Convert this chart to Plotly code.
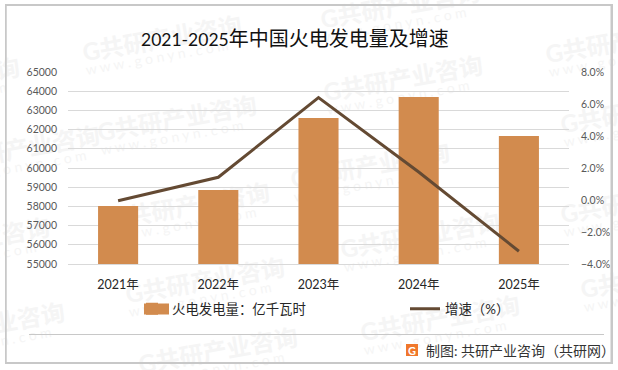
import plotly.graph_objects as go

categories = ["2021年", "2022年", "2023年", "2024年", "2025年"]
generation = [58020, 58850, 62600, 63700, 61670]
growth = [-0.05, 1.42, 6.4, 1.75, -3.2]

W, H = 618, 370
L, R, T, B = 68, 569, 72, 264
FONT = "Lato, 'Noto Sans CJK SC', sans-serif"
WM = "#f5f5f5"
BAR = "#D28B4E"
FRAME = "#c8c8c8"
wm_centers = [(162, 38), (177, 118), (205, 280), (218, 350), (190, 205), (403, 78), (370, 165),
              (420, 235), (440, 318), (625, 40), (640, 110), (640, 200), (660, 275), (20, 148),
              (-15, 325), (-30, 240), (-60, 80), (400, 5)]


def px(x):
    return (x - L) / (R - L)


def py(y):
    return (B - y) / (B - T)


shapes = []
# chart frame (four filled strips) and footer rule
for x0, x1, y0, y1 in [(5, 612, 4.5, 6), (5, 612, 362, 363.5), (5, 6.5, 4.5, 363.5), (610.5, 612, 4.5, 363.5),
                       (29, 604, 334, 335)]:
    shapes.append(dict(type="rect", xref="paper", yref="paper", layer="above",
                       x0=px(x0), x1=px(x1), y0=py(y1), y1=py(y0), line=dict(width=0), fillcolor=FRAME))
for cx, cy in wm_centers:
    shapes.append(dict(type="rect", xref="paper", yref="paper", layer="below",
                       x0=px(cx - 100), x1=px(cx + 100), y0=py(cy + 15), y1=py(cy - 15),
                       line=dict(width=0), fillcolor="rgba(0,0,0,0)",
                       label=dict(text="<b>G共研产业咨询</b>", textangle=-10, textposition="middle center",
                                  font=dict(family=FONT, size=24, color=WM))))
    shapes.append(dict(type="rect", xref="paper", yref="paper", layer="below",
                       x0=px(cx - 100), x1=px(cx + 90), y0=py(cy + 30), y1=py(cy + 8),
                       line=dict(width=0), fillcolor="rgba(0,0,0,0)",
                       label=dict(text="w w w . g o n y n . c o m", textangle=-10, textposition="middle center",
                                  font=dict(family=FONT, size=14, color=WM))))

# legend swatch and logo
shapes.append(dict(type="rect", xref="paper", yref="paper", x0=px(144), x1=px(169), y0=py(314.5), y1=py(303.5),
                   line=dict(width=0), fillcolor=BAR))
shapes.append(dict(type="rect", xref="paper", yref="paper", x0=px(406), x1=px(418), y0=py(356), y1=py(344),
                   line=dict(width=0), fillcolor="#f0772b"))

fig = go.Figure()
fig.add_trace(go.Bar(x=categories, y=generation, name="火电发电量：亿千瓦时", marker=dict(color=BAR, line=dict(width=0)),
                     width=0.4, yaxis="y", legend="legend"))
fig.add_trace(go.Scatter(x=categories, y=growth, name="增速（%）", mode="lines", yaxis="y2", legend="legend2",
                         line=dict(color="#644a33", width=3)))

legend_font = dict(size=13.4, color="#262626", family=FONT)
fig.update_layout(
    width=W, height=H, autosize=False,
    margin=dict(l=L, r=W - R, t=T, b=H - B, autoexpand=False),
    paper_bgcolor="white", plot_bgcolor="rgba(0,0,0,0)",
    font=dict(family=FONT, color="#595959", size=12),
    showlegend=True,
    legend=dict(x=px(132), y=py(309), xanchor="left", yanchor="middle", itemwidth=30,
                bgcolor="rgba(0,0,0,0)", font=legend_font),
    legend2=dict(x=px(405), y=py(309), xanchor="left", yanchor="middle", itemwidth=30,
                 bgcolor="rgba(0,0,0,0)", font=legend_font),
    xaxis=dict(type="category", showgrid=False, showline=True, linecolor="#d9d9d9", ticks="",
               tickfont=dict(size=12.5, color="#262626"), ticklabelstandoff=9, automargin=False),
    yaxis=dict(range=[55000, 65000], dtick=1000, showgrid=True, gridcolor="#d9d9d9", gridwidth=1,
               zeroline=False, showline=False, ticks="", tickformat="d", ticklabelstandoff=10,
               tickfont=dict(size=10.5, color="#595959"), automargin=False),
    yaxis2=dict(range=[-4, 8], dtick=2, overlaying="y", side="right", showgrid=False, zeroline=False,
                showline=False, ticks="", tickformat=".1f", ticksuffix="%", ticklabelstandoff=11,
                tickfont=dict(size=10.5, color="#595959"), automargin=False),
    shapes=shapes,
    annotations=[
        dict(text="\u00a0", xref="paper", yref="paper", x=px(308.5), y=py(184), xanchor="center", yanchor="middle",
             width=605, height=357, borderpad=0, borderwidth=1.5, bordercolor=FRAME, bgcolor="rgba(0,0,0,0)",
             showarrow=False, font=dict(size=1)),
        dict(text="\u00a0", xref="paper", yref="paper", x=px(316.5), y=py(334.5), xanchor="center", yanchor="middle",
             width=575, height=1, borderpad=0, borderwidth=0, bgcolor=FRAME, showarrow=False, font=dict(size=1)),
        dict(text='<span style="font-size:17.5px">2021-2025</span>年中国火电发电量及增速', xref="paper", yref="paper",
             x=px(295), y=py(38), xanchor="center", yanchor="middle", showarrow=False,
             font=dict(family=FONT, size=20, color="#111111")),
        dict(text="制图: 共研产业咨询（共研网）", xref="paper", yref="paper", x=px(424), y=py(350),
             xanchor="left", yanchor="middle", showarrow=False,
             font=dict(family=FONT, size=14, color="#333333")),
        dict(text="<b>G</b>", xref="paper", yref="paper", x=px(412), y=py(350), xanchor="center", yanchor="middle",
             showarrow=False, font=dict(family=FONT, size=11, color="white")),
    ],
)

fig.write_html("out.html", config=dict(displayModeBar=False), post_script="document.body.style.margin='0';")
